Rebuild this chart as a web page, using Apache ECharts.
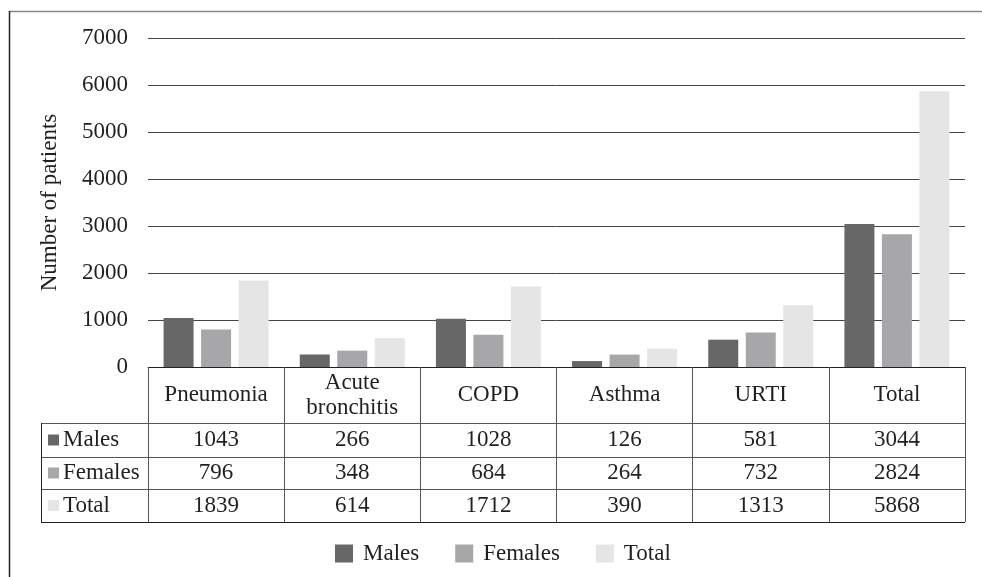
<!DOCTYPE html>
<html>
<head>
<meta charset="utf-8">
<script src="https://cdn.jsdelivr.net/npm/echarts@6/dist/echarts.min.js"></script>
<style>
  html, body { margin: 0; padding: 0; background: #fff; }
  #chart { width: 982px; height: 577px; }
</style>
</head>
<body>
<div id="chart"></div>
<script>
// data
const categories = ['Pneumonia', 'Acute\nbronchitis', 'COPD', 'Asthma', 'URTI', 'Total'];
const males = [1043, 266, 1028, 126, 581, 3044];
const females = [796, 348, 684, 264, 732, 2824];
const totals = [1839, 614, 1712, 390, 1313, 5868];
const seriesNames = ['Males', 'Females', 'Total'];
const seriesColors = ['#676767', '#a7a7a9', '#e5e5e6'];

const FONT = '"Liberation Serif", "DejaVu Serif", serif';
const FS = 23;
const TEXT = '#231f20';
const LINE = '#555';

const chart = echarts.init(document.getElementById('chart'), null, { renderer: 'canvas' });

const option = {
	animation: false,
	backgroundColor: '#fff',
	textStyle: { fontFamily: FONT, color: TEXT },
	grid: { left: 148, right: 17, top: 38, bottom: 210 },
	legend: {
		left: 335,
		top: 542,
		padding: 0,
		itemWidth: 18,
		itemHeight: 18,
		itemGap: 36,
		icon: 'rect',
		data: seriesNames,
		textStyle: { fontFamily: FONT, fontSize: FS, color: TEXT, padding: [0, 0, 0, 5] },
	},
	xAxis: {
		type: 'category',
		data: categories,
		axisLine: { lineStyle: { color: '#222', width: 1 } },
		axisTick: { show: true, length: 155, lineStyle: { color: LINE } },
		axisLabel: {
			interval: 0,
			margin: 28,
			verticalAlign: 'middle',
			lineHeight: 25,
			fontFamily: FONT,
			fontSize: FS,
			color: TEXT,
		},
	},
	yAxis: {
		type: 'value',
		min: 0,
		max: 7000,
		interval: 1000,
		name: 'Number of patients',
		nameLocation: 'middle',
		nameGap: 87,
		nameTextStyle: { fontFamily: FONT, fontSize: FS, color: TEXT },
		axisLine: { show: false },
		axisTick: { show: false },
		axisLabel: {
			margin: 20,
			fontFamily: FONT,
			fontSize: FS,
			color: TEXT,
			formatter: (v) => String(v),
		},
		splitLine: { lineStyle: { color: '#444', width: 1 } },
	},
	series: [
		{ name: seriesNames[0], type: 'bar', data: males, barWidth: 30, barGap: '25%', itemStyle: { color: seriesColors[0] } },
		{ name: seriesNames[1], type: 'bar', data: females, barWidth: 30, barGap: '25%', itemStyle: { color: seriesColors[1] } },
		{ name: seriesNames[2], type: 'bar', data: totals, barWidth: 30, barGap: '25%', itemStyle: { color: seriesColors[2] } },
	],
};

chart.setOption(option);

// data table under the axis
const buildTable = () => {
	const rows = [males, females, totals];
	const rowLines = [423, 457, 489, 522];
	const tableLeft = 41;
	const tableRight = 965;
	const elements = [];

	// frame around the figure
	elements.push({ type: 'line', shape: { x1: 9, y1: 11.5, x2: 982, y2: 11.5 }, style: { stroke: '#888', lineWidth: 1.5 } });
	elements.push({ type: 'line', shape: { x1: 9.5, y1: 11, x2: 9.5, y2: 577 }, style: { stroke: '#222', lineWidth: 1.5 } });

	rowLines.forEach((y, i) => {
		elements.push({
			type: 'line',
			shape: { x1: tableLeft, y1: y + 0.5, x2: tableRight, y2: y + 0.5 },
			style: { stroke: i === rowLines.length - 1 ? '#222' : LINE, lineWidth: 1 },
		});
	});
	elements.push({
		type: 'line',
		shape: { x1: tableLeft + 0.5, y1: rowLines[0], x2: tableLeft + 0.5, y2: rowLines[3] },
		style: { stroke: '#222', lineWidth: 1 },
	});

	rows.forEach((values, r) => {
		const cy = (rowLines[r] + rowLines[r + 1]) / 2;
		elements.push({
			type: 'rect',
			shape: { x: 48, y: cy - 5.5, width: 11, height: 11 },
			style: { fill: seriesColors[r] },
		});
		elements.push({
			type: 'text',
			x: 63,
			y: cy,
			style: { text: seriesNames[r], fontFamily: FONT, fontSize: FS, fill: TEXT, verticalAlign: 'middle', align: 'left' },
		});
		values.forEach((v, c) => {
			const cx = chart.convertToPixel({ xAxisIndex: 0 }, c);
			elements.push({
				type: 'text',
				x: cx,
				y: cy,
				style: { text: String(v), fontFamily: FONT, fontSize: FS, fill: TEXT, verticalAlign: 'middle', align: 'center' },
			});
		});
	});

	chart.setOption({ graphic: { elements } });
};

buildTable();
</script>
</body>
</html>
